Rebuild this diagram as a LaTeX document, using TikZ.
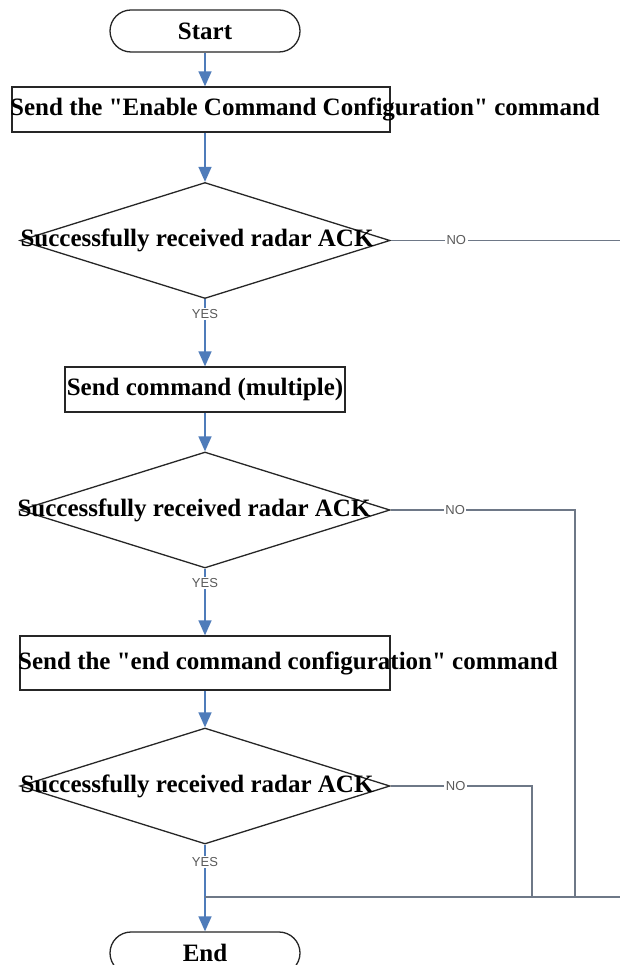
\documentclass[tikz,border=0pt]{standalone}
\usepackage{fontspec}
\setmainfont{Liberation Serif}
\newfontfamily\lblfont{Liberation Sans}
\usetikzlibrary{shapes.geometric,shapes.misc,arrows.meta}
\definecolor{flowblue}{RGB}{79,124,186}
\definecolor{noline}{RGB}{110,120,135}
\definecolor{lbl}{RGB}{90,90,90}
\begin{document}
\begin{tikzpicture}[x=1pt,y=-1pt,
  every node/.style={font=\fontsize{25}{30}\selectfont\bfseries, inner sep=0pt},
  term/.style={rounded rectangle, draw=black!85, line width=1.3pt, minimum width=190pt, minimum height=42pt},
  procbox/.style={rectangle, draw=black!85, line width=1.3pt},
  decision/.style={diamond, draw=black!85, line width=1.3pt, minimum width=370pt, minimum height=116pt},
  flow/.style={draw=flowblue, line width=1.4pt, -{Triangle[width=13pt,length=15pt]}},
  nopath/.style={draw=noline, line width=1.3pt},
  yn/.style={font=\lblfont\fontsize{13}{13}\selectfont, text=lbl, fill=white, inner sep=1.5pt}
]
\useasboundingbox (0,0) rectangle (619,965);
\fill[white] (0,0) rectangle (619,965);

\node[term] (start) at (205,31) {Start};
\node[procbox, minimum width=378pt, minimum height=45pt] (b1) at (201,109.5) {};
\node[anchor=west] (b1t) at (10,109.5) {Send the \textquotedbl Enable Command Configuration\textquotedbl\ command};

\node[decision] (d1) at (205,240.5) {};
\node (d1t) at (197,240.5) {Successfully received radar ACK};

\node[procbox, minimum width=280pt, minimum height=45pt] (b2) at (205,389.5) {Send command (multiple)};

\node[decision] (d2) at (205,510) {};
\node (d2t) at (194,510) {Successfully received radar ACK};

\node[procbox, minimum width=370pt, minimum height=54pt] (b3) at (205,663) {};
\node[anchor=west] (b3t) at (18,663) {Send the \textquotedbl end command configuration\textquotedbl\ command};

\node[decision] (d3) at (205,786) {};
\node (d3t) at (197,786) {Successfully received radar ACK};

\node[term] (end) at (205,953) {End};

\coordinate (j) at (205,897);
\coordinate (r1) at (625,240.5);
\coordinate (r2) at (575,510);
\coordinate (r3) at (532,786);
\coordinate (jr) at (625,897);

\draw[flow] (start.south) -- (start.south |- b1.north);
\draw[flow] (b1.south -| d1.north) -- (d1.north);
\draw[flow] (d1.south) -- node[yn,pos=0.22]{YES} (b2.north);
\draw[flow] (b2.south) -- (d2.north);
\draw[flow] (d2.south) -- node[yn,pos=0.22]{YES} (b3.north);
\draw[flow] (b3.south) -- (d3.north);
\draw[flow] (d3.south) -- node[yn,pos=0.2]{YES} (end.north);

\draw[nopath] (d1.east) -- node[yn,pos=0.28]{NO} (r1) -- (jr) -- (j);
\draw[nopath] (d2.east) -- node[yn,pos=0.35]{NO} (r2) -- (r2 |- j);
\draw[nopath] (d3.east) -- node[yn,pos=0.46]{NO} (r3) -- (r3 |- j);
\end{tikzpicture}
\end{document}
